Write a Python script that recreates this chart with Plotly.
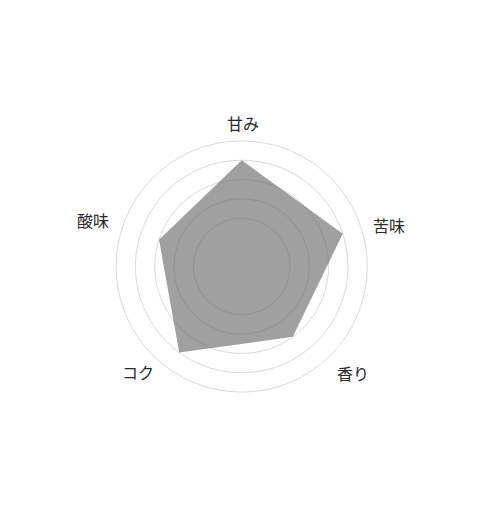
import math
import plotly.graph_objects as go

categories = ["甘み", "苦味", "香り", "コク", "酸味"]
values = [4, 4, 3, 4, 3]
tick_values = [1, 2, 3, 4, 5]

W, H = 480, 524
PAGE_OFFSET = 8  # default body margin of the page
# centre / outer radius of the polar area as seen on the page
scx, scy, R = 241.7, 266.5, 125.6
cx, cy = scx - PAGE_OFFSET, scy - PAGE_OFFSET
cy_b = H - cy

# label placement (distance from centre, angular nudge in degrees) per category slot
label_radius = [144, 153, 154, 148, 156]
label_nudge = [0.6, 2.2, -10.4, 8.4, -0.8]

fig = go.Figure()
fig.add_trace(go.Scatterpolar(
    r=values + values[:1],
    theta=categories + categories[:1],
    mode="lines",
    fill="toself",
    fillcolor="rgba(98,97,96,0.6)",
    line=dict(width=0, color="rgba(0,0,0,0)"),
    hoverinfo="skip",
    showlegend=False,
))

annotations = []
n = len(categories)
for i, name in enumerate(categories):
    ang = math.radians(360.0 * i / n + label_nudge[i])
    sx = scx + label_radius[i] * math.sin(ang)
    sy = scy - label_radius[i] * math.cos(ang)
    annotations.append(dict(
        text=name,
        x=(sx - PAGE_OFFSET) / W,
        y=1 - (sy - PAGE_OFFSET) / H,
        xref="paper", yref="paper",
        xanchor="center", yanchor="middle",
        showarrow=False,
        font=dict(family="Noto Sans CJK JP", size=16, color="#2a2a2a"),
    ))

fig.update_layout(
    width=W, height=H,
    margin=dict(l=0, r=0, t=0, b=0),
    paper_bgcolor="white",
    plot_bgcolor="white",
    font=dict(family="Noto Sans CJK JP", size=16, color="#2a2a2a"),
    annotations=annotations,
    polar=dict(
        domain=dict(x=[(cx - R) / W, (cx + R) / W], y=[(cy_b - R) / H, (cy_b + R) / H]),
        bgcolor="white",
        radialaxis=dict(
            range=[-1.5, 5],
            tickvals=tick_values,
            showticklabels=False,
            ticks="",
            showline=False,
            gridcolor="#dadada",
            gridwidth=1,
        ),
        angularaxis=dict(
            direction="clockwise",
            rotation=90,
            showgrid=False,
            showline=True,
            linecolor="#dadada",
            linewidth=1,
            ticks="",
            showticklabels=False,
        ),
    ),
)

fig.write_html("out.html")
